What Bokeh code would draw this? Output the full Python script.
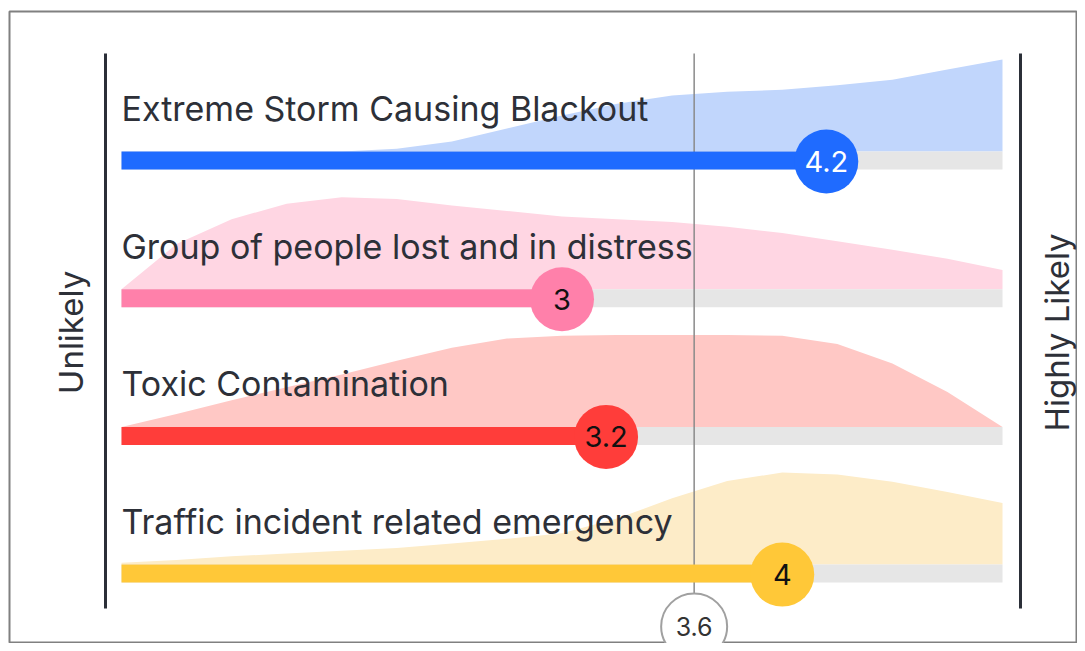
import numpy as np
from bokeh.plotting import figure
from bokeh.models import Range1d
from bokeh.core.properties import value
from bokeh.embed import file_html
from bokeh.resources import INLINE

# ---------------- data ----------------
categories = [
    "Extreme Storm Causing Blackout",
    "Group of people lost and in distress",
    "Toxic Contamination",
    "Traffic incident related emergency",
]
scores = [4.2, 3.0, 3.2, 4.0]
score_labels = ["4.2", "3", "3.2", "4"]
average = 3.6
average_label = "3.6"
scale_min, scale_max = 1, 5
low_label = "Unlikely"
high_label = "Highly Likely"

# density of answers along the 1..5 scale, sampled every 0.25 (normalised to 1)
density_x = [1.0, 1.25, 1.5, 1.75, 2.0, 2.25, 2.5, 2.75, 3.0, 3.25, 3.5, 3.75, 4.0, 4.25, 4.5, 4.75, 5.0]
density_storm = [0, 0, 0, 0, 0, 0.03, 0.11, 0.25, 0.39, 0.52, 0.61, 0.65, 0.67, 0.72, 0.78, 0.89, 1.0]
density_lost = [0, 0.49, 0.76, 0.93, 1.0, 0.98, 0.91, 0.85, 0.79, 0.76, 0.73, 0.68, 0.61, 0.52, 0.43, 0.33, 0.21]
density_toxic = [0, 0.14, 0.29, 0.43, 0.57, 0.72, 0.86, 0.96, 0.99, 1.0, 1.0, 1.0, 0.99, 0.9, 0.69, 0.38, 0]
density_traffic = [0.02, 0.05, 0.09, 0.12, 0.15, 0.18, 0.23, 0.28, 0.34, 0.5, 0.72, 0.91, 1.0, 0.98, 0.9, 0.79, 0.67]
densities = [density_storm, density_lost, density_toxic, density_traffic]

bar_colors = ["#1f6bff", "#ff80aa", "#ff3d3a", "#ffc838"]
area_colors = ["#c1d6fc", "#ffd6e3", "#ffc8c5", "#fdecc8"]
value_text_colors = ["#ffffff", "#111111", "#111111", "#111111"]

# ---------------- layout (screen-like y coordinates) ----------------
px_per_unit = 220.25
W, H = 1077, 643
FL, FT = 9, 11  # frame left / top in page pixels
x_start = scale_min + (FL - 121) / px_per_unit
x_end = scale_min + (W - 121) / px_per_unit
row_y0, row_gap = 160, 137.7
bar_h = 18
area_h = 92
text_color = "#2d3038"
FONT = "Inter"

p = figure(width=W, height=H, output_backend="svg", toolbar_location=None,
           x_range=Range1d(x_start, x_end), y_range=Range1d(H, FT),
           min_border_left=FL, min_border_right=0, min_border_top=FT, min_border_bottom=0,
           outline_line_color="#808080", outline_line_width=2)
p.xaxis.visible = False
p.yaxis.visible = False
p.grid.visible = False
p.background_fill_color = "white"
p.border_fill_color = "white"

dx = np.array(density_x)
for i, cat in enumerate(categories):
    yc = row_y0 + i * row_gap
    base = yc - bar_h / 2
    d = np.array(densities[i])
    p.varea(x=dx, y1=np.full_like(dx, base), y2=base - d * area_h,
            fill_color=area_colors[i], fill_alpha=1)
    # track
    p.hbar(y=[yc], left=[scale_min], right=[scale_max], height=bar_h,
           fill_color="#e6e6e6", line_color=None)

# average line
top_y = 53
bottom_y = 608
avg_y = 626
p.segment(x0=[average], x1=[average], y0=[top_y], y1=[avg_y], line_color="#8a8a8a", line_width=1.5)

for i, cat in enumerate(categories):
    yc = row_y0 + i * row_gap
    p.hbar(y=[yc], left=[scale_min], right=[scores[i]], height=bar_h,
           fill_color=bar_colors[i], line_color=None)
    p.text(x=[scale_min], y=[yc - 52], text=[cat], text_font=value(FONT),
           text_font_size="34px", text_color=text_color, text_baseline="alphabetic",
           text_align="left")
    p.scatter(x=[scores[i]], y=[yc + 1], size=64, marker="circle",
              fill_color=bar_colors[i], line_color=None)
    p.text(x=[scores[i]], y=[yc + 1], text=[score_labels[i]], text_font=value(FONT),
           text_font_size="29px", text_color=value_text_colors[i], text_baseline="middle",
           text_align="center")

# average bubble
p.scatter(x=[average], y=[avg_y], size=66, marker="circle", fill_color="white",
          line_color="#a0a0a0", line_width=2)
p.text(x=[average], y=[avg_y], text=[average_label], text_font=value(FONT),
       text_font_size="25px", text_color="#333333", text_baseline="middle", text_align="center")

# scale end lines
left_x = scale_min - 16 / px_per_unit
right_x = scale_max + 18 / px_per_unit
p.segment(x0=[left_x, right_x], x1=[left_x, right_x], y0=[top_y, top_y], y1=[bottom_y, bottom_y],
          line_color="#2b2f38", line_width=3)

# end labels
p.text(x=[scale_min - 51 / px_per_unit], y=[332], text=[low_label], angle=np.pi / 2,
       text_font=value(FONT), text_font_size="33px", text_color=text_color,
       text_baseline="middle", text_align="center")
p.text(x=[scale_max + 54 / px_per_unit], y=[332], text=[high_label], angle=np.pi / 2,
       text_font=value(FONT), text_font_size="33px", text_color=text_color,
       text_baseline="middle", text_align="center")

open("out.html", "w").write(file_html(p, INLINE))
